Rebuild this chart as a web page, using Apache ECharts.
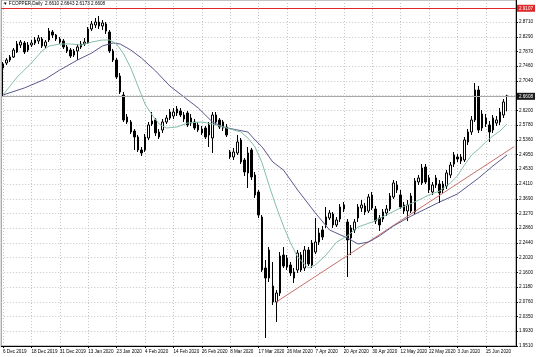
<!DOCTYPE html>
<html><head><meta charset="utf-8">
<script src="https://cdn.jsdelivr.net/npm/echarts@6/dist/echarts.min.js"></script>
<style>html,body{margin:0;padding:0;background:#fff}#c{width:536px;height:357px}</style>
</head><body><div id="c"></div>
<script>
// ---- data ----
const titleText = '\u25BC FCOPPER,Daily  2.6610 2.6643 2.6173 2.6608';

const dates = [
'6 Dec 2019','9 Dec 2019','10 Dec 2019','11 Dec 2019','12 Dec 2019','13 Dec 2019','16 Dec 2019','17 Dec 2019',
'18 Dec 2019','19 Dec 2019','20 Dec 2019','23 Dec 2019','24 Dec 2019','26 Dec 2019','27 Dec 2019','30 Dec 2019',
'31 Dec 2019','2 Jan 2020','3 Jan 2020','6 Jan 2020','7 Jan 2020','8 Jan 2020','9 Jan 2020','10 Jan 2020',
'13 Jan 2020','14 Jan 2020','15 Jan 2020','16 Jan 2020','17 Jan 2020','20 Jan 2020','21 Jan 2020','22 Jan 2020',
'23 Jan 2020','24 Jan 2020','27 Jan 2020','28 Jan 2020','29 Jan 2020','30 Jan 2020','31 Jan 2020','3 Feb 2020',
'4 Feb 2020','5 Feb 2020','6 Feb 2020','7 Feb 2020','10 Feb 2020','11 Feb 2020','12 Feb 2020','13 Feb 2020',
'14 Feb 2020','17 Feb 2020','18 Feb 2020','19 Feb 2020','20 Feb 2020','21 Feb 2020','24 Feb 2020','25 Feb 2020',
'26 Feb 2020','27 Feb 2020','28 Feb 2020','2 Mar 2020','3 Mar 2020','4 Mar 2020','5 Mar 2020','6 Mar 2020',
'8 Mar 2020','9 Mar 2020','10 Mar 2020','11 Mar 2020','12 Mar 2020','13 Mar 2020','15 Mar 2020','16 Mar 2020',
'17 Mar 2020','18 Mar 2020','19 Mar 2020','20 Mar 2020','22 Mar 2020','23 Mar 2020','24 Mar 2020','25 Mar 2020',
'26 Mar 2020','27 Mar 2020','30 Mar 2020','31 Mar 2020','1 Apr 2020','2 Apr 2020','3 Apr 2020','6 Apr 2020',
'7 Apr 2020','8 Apr 2020','9 Apr 2020','13 Apr 2020','14 Apr 2020','15 Apr 2020','16 Apr 2020','17 Apr 2020',
'20 Apr 2020','21 Apr 2020','22 Apr 2020','23 Apr 2020','24 Apr 2020','27 Apr 2020','28 Apr 2020','29 Apr 2020',
'30 Apr 2020','1 May 2020','4 May 2020','5 May 2020','6 May 2020','7 May 2020','8 May 2020','11 May 2020',
'12 May 2020','13 May 2020','14 May 2020','15 May 2020','18 May 2020','19 May 2020','20 May 2020','21 May 2020',
'22 May 2020','25 May 2020','26 May 2020','27 May 2020','28 May 2020','29 May 2020','1 Jun 2020','2 Jun 2020',
'3 Jun 2020','4 Jun 2020','5 Jun 2020','8 Jun 2020','9 Jun 2020','10 Jun 2020','11 Jun 2020','12 Jun 2020',
'15 Jun 2020','16 Jun 2020','17 Jun 2020','18 Jun 2020','19 Jun 2020','22 Jun 2020','23 Jun 2020',
'',''
];

// [open, close, low, high]
const ohlc = [
[2.7404,2.7518,2.6609,2.7575],[2.7546,2.7631,2.7489,2.7688],[2.7631,2.7716,2.7575,2.7773],[2.7716,2.7915,2.7688,2.7972],
[2.7858,2.8086,2.7830,2.8171],[2.8057,2.8142,2.7972,2.8199],[2.8114,2.7858,2.7802,2.8171],[2.7915,2.8057,2.7858,2.8142],
[2.8057,2.8114,2.8000,2.8199],[2.8114,2.8199,2.8057,2.8284],[2.8171,2.8256,2.8086,2.8341],[2.8228,2.8029,2.7972,2.8284],
[2.8029,2.8142,2.7972,2.8199],[2.8199,2.8455,2.8142,2.8540],[2.8426,2.8341,2.8256,2.8483],[2.8341,2.8228,2.8171,2.8370],
[2.8228,2.8142,2.8086,2.8284],[2.8171,2.8000,2.7944,2.8228],[2.8000,2.7887,2.7830,2.8057],[2.7915,2.7745,2.7688,2.7972],
[2.7773,2.7887,2.7716,2.7944],[2.7887,2.8000,2.7631,2.8086],[2.8000,2.8086,2.7944,2.8171],[2.8086,2.8142,2.8029,2.8256],
[2.8114,2.8512,2.8086,2.8568],[2.8512,2.8654,2.8455,2.8739],[2.8625,2.8710,2.8540,2.8824],[2.8710,2.8597,2.8512,2.8881],
[2.8597,2.8682,2.8483,2.8767],[2.8654,2.8455,2.8370,2.8710],[2.8426,2.7887,2.7830,2.8483],[2.7887,2.7631,2.7575,2.7944],
[2.7631,2.7149,2.7092,2.7688],[2.7177,2.6723,2.6666,2.7262],[2.6637,2.5928,2.5871,2.6723],[2.6013,2.5871,2.5814,2.6098],
[2.5871,2.5587,2.5530,2.5928],[2.5615,2.5445,2.5076,2.5672],[2.5445,2.5076,2.5019,2.5502],[2.5076,2.4991,2.4905,2.5161],
[2.5076,2.5445,2.5019,2.5530],[2.5416,2.5786,2.5360,2.5871],[2.5814,2.5899,2.5757,2.6155],[2.5928,2.5558,2.5473,2.5984],
[2.5445,2.5587,2.5388,2.5672],[2.5644,2.5871,2.5558,2.5956],[2.5871,2.5984,2.5814,2.6070],[2.5984,2.6155,2.5928,2.6240],
[2.6041,2.6155,2.5956,2.6268],[2.6126,2.6240,2.6041,2.6325],[2.6183,2.6070,2.6013,2.6268],[2.6070,2.5956,2.5871,2.6155],
[2.6126,2.5786,2.5729,2.6183],[2.5842,2.5984,2.5757,2.6098],[2.5871,2.5700,2.5644,2.5956],[2.5786,2.5644,2.5587,2.5871],
[2.5672,2.5558,2.5502,2.5757],[2.5700,2.5445,2.5388,2.5757],[2.5502,2.5786,2.5161,2.5871],[2.5416,2.6070,2.4991,2.6155],
[2.6070,2.5871,2.5786,2.6155],[2.5928,2.5729,2.5672,2.5984],[2.5871,2.5700,2.5615,2.5928],[2.5729,2.5502,2.5445,2.5814],
[2.5019,2.4877,2.4820,2.5076],[2.4877,2.5019,2.4792,2.5133],[2.4991,2.5303,2.4934,2.5502],[2.5360,2.4735,2.4678,2.5416],
[2.4792,2.4451,2.4337,2.4849],[2.4423,2.4991,2.3997,2.5161],[2.5076,2.4309,2.4224,2.5133],[2.4366,2.3798,2.3713,2.4451],
[2.3883,2.3230,2.3145,2.3940],[2.3173,2.1668,2.1612,2.3230],[2.1725,2.1441,1.9737,2.1952],[2.1441,2.2236,2.1328,2.2321],
[2.1214,2.0760,2.0675,2.1896],[2.0760,2.1015,2.0192,2.1100],[2.1015,2.2066,2.0930,2.2179],[2.2094,2.1782,2.1725,2.2321],
[2.2009,2.1754,2.1668,2.2094],[2.1810,2.1583,2.1498,2.1896],[2.1441,2.1612,2.1299,2.1725],[2.1668,2.2151,2.1583,2.2236],
[2.2094,2.1668,2.1612,2.2179],[2.1725,2.2236,2.1640,2.2350],[2.2236,2.1839,2.1782,2.2321],[2.1810,2.2435,2.1725,2.2520],
[2.2179,2.2463,2.2123,2.3145],[2.2463,2.2719,2.2378,2.2861],[2.2804,2.2605,2.2520,2.2918],[2.2946,2.3173,2.2861,2.3457],
[2.3145,2.3287,2.3088,2.3372],[2.3258,2.2946,2.2861,2.3315],[2.2946,2.3088,2.2889,2.3173],[2.3116,2.3457,2.3031,2.3542],
[2.3400,2.3514,2.3315,2.3599],[2.3031,2.2520,2.1470,2.3116],[2.2577,2.2861,2.2094,2.2946],[2.2804,2.3031,2.2719,2.3116],
[2.3145,2.3457,2.3031,2.3542],[2.3429,2.3514,2.3315,2.3656],[2.3486,2.3315,2.3230,2.3571],[2.3344,2.3741,2.3287,2.3826],
[2.3798,2.3429,2.3372,2.3883],[2.3400,2.3060,2.2975,2.3486],[2.3145,2.2946,2.2776,2.3230],[2.3116,2.3315,2.3031,2.3400],
[2.3287,2.3400,2.3202,2.3514],[2.3400,2.3770,2.3344,2.3855],[2.3741,2.4139,2.3684,2.4224],[2.3940,2.4082,2.3855,2.4196],
[2.3798,2.3457,2.3400,2.3940],[2.3514,2.3344,2.3258,2.3599],[2.3344,2.3514,2.3060,2.3656],[2.3770,2.3344,2.3287,2.3855],
[2.3315,2.4196,2.3258,2.4281],[2.4167,2.4281,2.4082,2.4366],[2.4139,2.4565,2.4082,2.4678],[2.4593,2.4167,2.4110,2.4678],
[2.4281,2.3940,2.3855,2.4366],[2.3883,2.4082,2.3798,2.4167],[2.4082,2.4281,2.3997,2.4366],[2.4110,2.3855,2.3571,2.4224],
[2.3940,2.4110,2.3855,2.4196],[2.4054,2.4423,2.3968,2.4508],[2.4366,2.4650,2.4281,2.4735],[2.4678,2.4934,2.4593,2.5019],
[2.4877,2.4820,2.4735,2.4962],[2.4763,2.4877,2.4678,2.4962],[2.4792,2.5360,2.4735,2.5445],[2.5303,2.5587,2.5218,2.5672],
[2.5587,2.5928,2.5502,2.6041],[2.5928,2.6779,2.5871,2.6978],[2.6779,2.5644,2.5558,2.6893],[2.6098,2.5700,2.5615,2.6212],
[2.5814,2.5984,2.5729,2.6098],[2.5786,2.5587,2.5303,2.5899],[2.5644,2.5984,2.5558,2.6070],[2.5842,2.5928,2.5757,2.6041],
[2.5871,2.6155,2.5786,2.6268],[2.6070,2.6439,2.5984,2.6524],[2.6610,2.6608,2.6173,2.6643]
];

// moving averages read at sample bars: [bar index, value]
const maFast = [
[0,2.6637],[4,2.7149],[8,2.7546],[11,2.7887],[13,2.8029],[16,2.8086],[19,2.8086],[22,2.8057],[25,2.8142],
[28,2.8199],[30,2.8199],[32,2.8086],[34,2.7802],[36,2.7404],[38,2.6893],[40,2.6382],[42,2.6070],[44,2.5814],
[46,2.5700],[49,2.5729],[52,2.5842],[56,2.5871],[59,2.5814],[62,2.5729],[65,2.5644],[67,2.5587],[69,2.5416],
[71,2.5161],[73,2.4707],[75,2.4054],[77,2.3457],[79,2.2918],[81,2.2435],[83,2.2037],[86,2.1725],[88,2.1810],
[91,2.2094],[94,2.2463],[97,2.2634],[100,2.2889],[104,2.3031],[108,2.3230],[112,2.3429],[116,2.3599],[120,2.3798],
[123,2.3912],[126,2.4139],[128,2.4337],[130,2.4650],[132,2.4934],[134,2.5104],[136,2.5303],[138,2.5473],
[140,2.5615],[142,2.5814]
];
const maSlow = [
[0,2.6637],[6,2.6836],[12,2.7092],[16,2.7347],[21,2.7631],[25,2.7830],[28,2.8029],[31,2.8114],[33,2.8086],
[36,2.7915],[39,2.7688],[43,2.7319],[47,2.6893],[51,2.6581],[55,2.6268],[59,2.5871],[62,2.5729],[66,2.5644],
[69,2.5587],[71,2.5360],[73,2.5161],[76,2.4735],[79,2.4508],[83,2.3940],[88,2.3287],[92,2.2804],[97,2.2577],
[100,2.2407],[103,2.2463],[106,2.2634],[110,2.2918],[115,2.3202],[119,2.3400],[123,2.3599],[128,2.3826],
[131,2.4054],[134,2.4281],[138,2.4621],[142,2.4934]
];
const trendLine = [[77,2.0760],[144,2.5172]];

const yTickLabels = ['1.9510','1.9930','2.0350','2.0760','2.1180','2.1600','2.2020','2.2440','2.2860','2.3270',
'2.3690','2.4110','2.4530','2.4950','2.5360','2.5780','2.6200','2.6620','2.7040','2.7460','2.7870','2.8290','2.8710'];
const priceMarker = 2.9107;
const lastPrice = 2.6608;

// ---- chart ----
const FONT = 'Liberation Sans, Arial, DejaVu Sans, sans-serif';
const FS = 4.6;
const yTicks = yTickLabels.map(Number);
const every8 = (i) => i % 8 === 0 && dates[i] !== '';
const chart = echarts.init(document.getElementById('c'), null, {renderer:'canvas'});
chart.setOption({
  animation: false,
  backgroundColor: '#fff',
  title: {text: titleText, left: 2, top: 0, padding: 1,
    textStyle: {fontSize: FS, fontWeight: 'normal', color: '#000', fontFamily: FONT}},
  grid: {left: 1, right: 19, top: 0, bottom: 11, show: true, borderColor: '#8a8a8a', borderWidth: 1, backgroundColor: '#fff'},
  xAxis: {
    type: 'category', data: dates, boundaryGap: true,
    axisLine: {show: true, lineStyle: {color: '#000', width: 1}},
    axisTick: {show: true, alignWithLabel: true, interval: every8, length: 2, lineStyle: {color: '#000'}},
    axisLabel: {interval: every8, align: 'left', fontSize: FS, color: '#000', margin: 3, fontFamily: FONT, hideOverlap: false},
    splitLine: {show: true, interval: every8, alignWithLabel: true, lineStyle: {color: '#c4c4c4', type: [1, 2], width: 1}}
  },
  yAxis: {
    type: 'value', position: 'right', min: 1.951, max: 2.9335, scale: true,
    axisLine: {show: true, lineStyle: {color: '#000', width: 1}},
    axisTick: {show: true, length: 2, customValues: yTicks, lineStyle: {color: '#000'}},
    axisLabel: {customValues: yTicks, formatter: v => v.toFixed(4), fontSize: FS, color: '#000', margin: 3, fontFamily: FONT},
    splitLine: {show: true, lineStyle: {color: '#c4c4c4', type: [1, 2], width: 1}}
  },
  series: [
    {
      type: 'candlestick', data: ohlc, barWidth: 2,
      itemStyle: {color: '#ffffff', color0: '#000000', borderColor: '#000000', borderColor0: '#000000', borderWidth: 1},
      markLine: {
        symbol: 'none', silent: true, animation: false,
        data: [
          {yAxis: priceMarker, lineStyle: {color: '#e0282a', type: 'solid', width: 1},
           label: {show: true, position: 'end', formatter: priceMarker.toFixed(4), backgroundColor: '#e0282a', color: '#fff',
             fontSize: FS, padding: [1, 2, 1, 2], distance: 1, fontFamily: FONT}},
          {yAxis: lastPrice, lineStyle: {color: '#a8a8a8', type: 'solid', width: 1},
           label: {show: true, position: 'end', formatter: lastPrice.toFixed(4), backgroundColor: '#1a1a1a', color: '#fff',
             fontSize: FS, padding: [1, 2, 1, 2], distance: 1, fontFamily: FONT}}
        ]
      }
    },
    {type: 'line', data: trendLine, symbol: 'none', lineStyle: {color: '#c8706a', width: 1}, z: 3},
    {type: 'line', data: maSlow, symbol: 'none', lineStyle: {color: '#5a5a8e', width: 1}, z: 3},
    {type: 'line', data: maFast, symbol: 'none', lineStyle: {color: '#86c0a6', width: 1}, z: 3}
  ]
});
</script></body></html>
